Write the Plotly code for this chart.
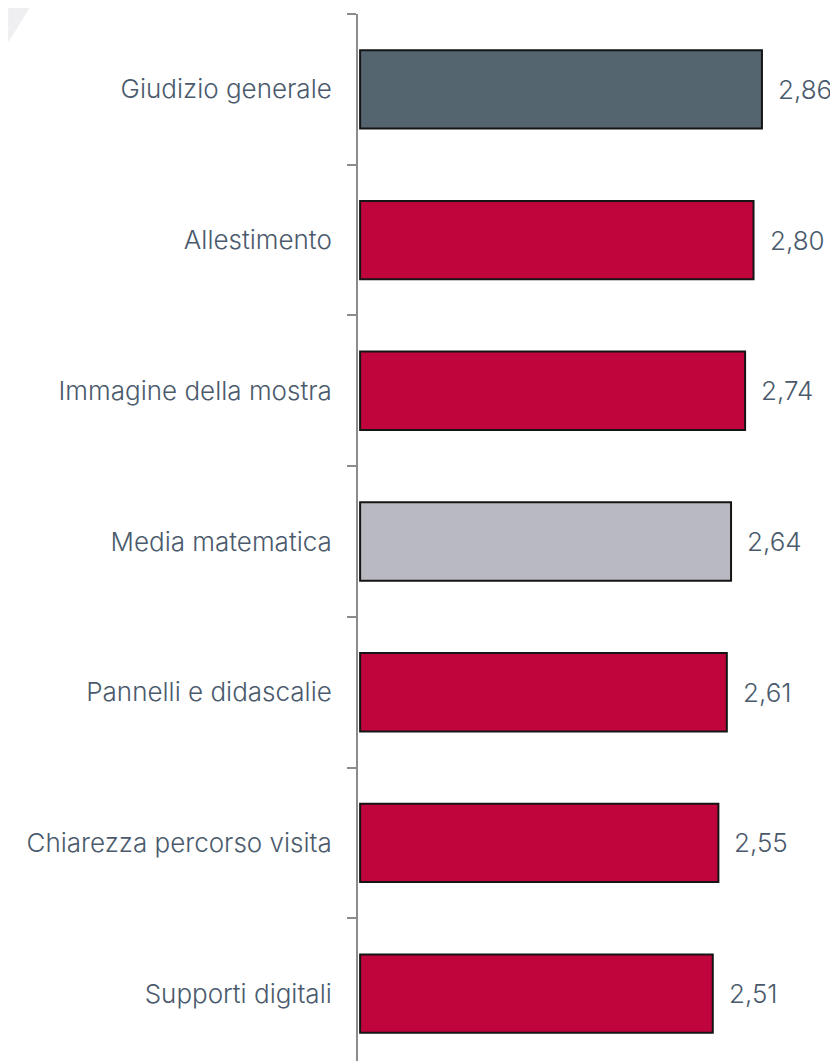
import plotly.graph_objects as go

categorie = [
    "Giudizio generale",
    "Allestimento",
    "Immagine della mostra",
    "Media matematica",
    "Pannelli e didascalie",
    "Chiarezza percorso visita",
    "Supporti digitali",
]
valori = [2.86, 2.80, 2.74, 2.64, 2.61, 2.55, 2.51]
colori = ["#546570", "#bf053b", "#bf053b", "#b9b9c2", "#bf053b", "#bf053b", "#bf053b"]

testo_col = "#4a5a6c"

fig = go.Figure()

fig.add_trace(go.Bar(
    x=valori,
    y=categorie,
    orientation='h',
    width=0.52,
    marker=dict(color=colori, line=dict(color="#151515", width=2)),
    hoverinfo='skip',
))

etichette = []
for cat, v in zip(categorie, valori):
    etichette.append(dict(
        x=v,
        y=cat,
        text=f"{v:.2f}".replace(".", ","),
        showarrow=False,
        xanchor="left",
        xshift=14,
        font=dict(size=26, color=testo_col, family="Inter", weight=300),
    ))

# decorazione chiara in alto a sinistra
fig.add_shape(
    type="path",
    xref="paper", yref="paper",
    path="M -0.774 1.006 L -0.726 1.006 L -0.774 0.973 Z",
    fillcolor="#efeff2",
    line=dict(width=0),
    layer="below",
)

fig.update_layout(
    width=838,
    height=1061,
    margin=dict(l=350, r=36, t=6, b=0),
    plot_bgcolor="white",
    paper_bgcolor="white",
    showlegend=False,
    annotations=etichette,
    xaxis=dict(
        visible=False,
        range=[-0.015, 3.202],
    ),
    yaxis=dict(
        categoryorder="array",
        categoryarray=categorie,
        autorange="reversed",
        showline=True,
        linecolor="#8c8c8c",
        linewidth=2,
        ticks="outside",
        tickson="boundaries",
        ticklen=9,
        tickwidth=2,
        tickcolor="#8c8c8c",
        ticklabelstandoff=19,
        showgrid=False,
        tickfont=dict(size=26, color=testo_col, family="Inter", weight=300),
    ),
)

fig.write_html("out.html")
